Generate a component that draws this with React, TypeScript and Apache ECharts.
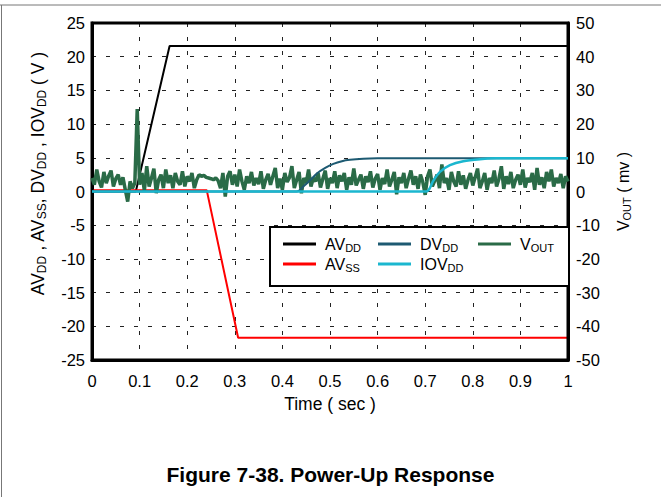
import React, { useEffect, useRef } from "react";
import * as echarts from "echarts";

const xTicks = [0, 0.1, 0.2, 0.3, 0.4, 0.5, 0.6, 0.7, 0.8, 0.9, 1];

const avddT = [0, 0.092, 0.163, 1];
const avddV = [0, 0, 21.6, 21.6];

const avssT = [0, 0.241, 0.307, 1];
const avssV = [0.2, 0.2, -21.7, -21.7];

const dvddT = [0, 0.43, 0.445, 0.46, 0.473, 0.49, 0.507, 0.525, 0.542, 0.57, 0.6, 0.65, 1];
const dvddV = [0, 0, 0.8, 1.8, 2.7, 3.5, 4.1, 4.5, 4.7, 4.85, 4.92, 4.95, 4.95];

const iovddT = [0, 0.702, 0.717, 0.731, 0.752, 0.78, 0.815, 0.85, 0.9, 1];
const iovddV = [0, 0, 1.6, 2.9, 3.9, 4.5, 4.8, 4.92, 4.95, 4.95];

// VOUT in mV, sampled every 5 ms from 0 to 1 s
const voutStep = 0.005;
const voutMv = [
  4.0, 2.0, 6.5, 3.0, 1.2, 5.8, 2.5, 4.6, 6.2, 1.5,
  3.8, 5.0, 2.0, 4.2, 0.5, -3.0, 3.0, 1.0, 2.5, 24.5,
  2.0, 5.5, 0.2, 7.5, 1.5, 4.0, 6.8, -0.5, 3.5, 5.0,
  1.0, 6.5, 2.5, 4.8, 1.0, 5.5, 3.0, 2.0, 6.0, 1.5,
  4.5, 3.0, 5.5, 1.0, 3.5, 5.0, 4.5, 4.8, 4.2, 4.0,
  3.8, 3.5, 4.0, 3.2, 1.0, 5.5, -1.5, 4.5, 6.0, 2.0,
  5.0, 1.5, 6.5, 3.0, 0.5, 4.5, 2.5, 5.8, 1.8, 4.0,
  2.2, 6.0, 0.8, 3.5, 5.2, 2.0, 4.5, 7.0, 1.0, 3.8,
  0.5, 5.5, 2.8, 4.2, 7.5, 1.0, 3.5, 5.8, -0.5, 4.0,
  2.5, 6.5, 1.5, 4.0, 3.0, 5.5, 1.2, 3.8, 6.2, 0.8,
  4.0, 2.5, 6.0, 1.0, 4.8, 3.0, 5.5, 0.5, 4.2, 2.0,
  6.8, 1.8, 3.5, 5.0, 0.8, 4.5, 2.8, 6.0, 1.2, 3.8,
  5.2, 0.5, 4.0, 2.2, 6.5, 1.5, 3.5, 5.8, -0.8, 4.2,
  2.5, 5.5, 1.0, 3.8, 6.2, 2.0, 4.5, 0.8, 5.0, 2.8,
  -1.0, 4.5, 6.5, 1.5, 3.2, 5.0, 1.0, 8.0, 2.5, 4.0,
  0.5, 5.8, 3.0, 1.5, 6.0, 2.0, 4.8, 0.8, 3.5, 5.5,
  1.8, 4.2, 6.8, 1.0, 3.0, 5.5, 0.5, 4.0, 2.5, 6.2,
  1.5, 3.8, 7.5, 0.8, 4.5, 2.2, 5.8, 1.0, 3.5, 5.0,
  2.0, 6.5, 1.2, 4.0, 2.8, 5.5, 0.5, 7.0, 2.0, 4.2,
  1.0, 5.8, 3.0, 6.5, 1.5, 4.0, 2.5, 5.2, 1.0, 4.5,
  3.0,
];

const FONT = "'Liberation Sans', Arial, sans-serif";

const pairs = (t: number[], v: number[]) => t.map((x, i) => [x, v[i]]);

const subRich = {
  m: { fontSize: 16, fontFamily: FONT, color: "#000" },
  s: { fontSize: 11, fontFamily: FONT, color: "#000", verticalAlign: "bottom" as const, padding: [7, 0, 0, 0] },
};

const bigRich = {
  m: { fontSize: 17.5, fontFamily: FONT, color: "#000" },
  s: { fontSize: 12, fontFamily: FONT, color: "#000", verticalAlign: "bottom" as const, padding: [8, 0, 0, 0] },
};

export default function App() {
  const ref = useRef<HTMLDivElement>(null);
  useEffect(() => {
    if (!ref.current) return;
    const chart = echarts.init(ref.current, null, { renderer: "svg" });
    const voutData = voutMv.map((v, i) => [Math.round(i * voutStep * 1000) / 1000, v]);
    const legendItem = (name: string, label: string, left: number, top: number) => ({
      data: [name],
      left,
      top,
      padding: 0,
      itemWidth: 33,
      itemHeight: 3,
      icon: "rect",
      z: 5,
      formatter: () => label,
      textStyle: { rich: subRich, padding: [0, 0, 0, 4] },
    });
    chart.setOption({
      animation: false,
      textStyle: { fontFamily: FONT },
      title: {
        text: "Figure 7-38. Power-Up Response",
        left: "center",
        top: 459,
        textStyle: { fontFamily: FONT, fontWeight: "bold", fontSize: 21, color: "#000" },
      },
      graphic: [
        { type: "line", shape: { x1: 0, y1: 5, x2: 661, y2: 5 }, style: { stroke: "#777", lineWidth: 1 }, z: 10 },
        { type: "line", shape: { x1: 1.5, y1: 5, x2: 1.5, y2: 497 }, style: { stroke: "#777", lineWidth: 1 }, z: 10 },
        {
          type: "rect",
          shape: { x: 270, y: 227, width: 299, height: 59 },
          style: { fill: "#fff", stroke: "#000", lineWidth: 2 },
          z: 4,
        },
      ],
      legend: [
        legendItem("AVDD", "{m|AV}{s|DD}", 283, 236),
        legendItem("DVDD", "{m|DV}{s|DD}", 378, 236),
        legendItem("VOUT", "{m|V}{s|OUT}", 478, 236),
        legendItem("AVSS", "{m|AV}{s|SS}", 283, 256),
        legendItem("IOVDD", "{m|IOV}{s|DD}", 378, 256),
      ],
      grid: {
        left: 92,
        top: 23,
        width: 476,
        height: 337,
        show: true,
        borderColor: "#000",
        borderWidth: 3,
        z: 3,
      },
      xAxis: {
        type: "value",
        min: 0,
        max: 1,
        interval: 0.1,
        name: "Time ( sec )",
        nameLocation: "middle",
        nameGap: 35,
        nameTextStyle: { fontSize: 17.5, color: "#000", fontFamily: FONT },
        axisLine: { show: true, onZero: false, lineStyle: { color: "#000", width: 3 } },
        axisTick: { show: false },
        axisLabel: { fontSize: 16.5, color: "#000", margin: 12, fontFamily: FONT },
        splitLine: { show: true, lineStyle: { color: "#222", width: 1, type: [4, 10] } },
        data: xTicks,
      },
      yAxis: [
        {
          type: "value",
          min: -25,
          max: 25,
          interval: 5,
          position: "left",
          name: "{m|AV}{s|DD}{m| , AV}{s|SS}{m|, DV}{s|DD}{m| , IOV}{s|DD}{m| ( V )}",
          nameLocation: "middle",
          nameRotate: 90,
          nameGap: 44,
          nameTextStyle: { rich: bigRich, padding: [0, 0, 0, 36] },
          axisLine: { show: true, onZero: false, lineStyle: { color: "#000", width: 3 } },
          axisTick: { show: false },
          axisLabel: { fontSize: 16.5, color: "#000", margin: 7, fontFamily: FONT },
          splitLine: { show: true, lineStyle: { color: "#222", width: 1, type: [4, 10] } },
        },
        {
          type: "value",
          min: -50,
          max: 50,
          interval: 10,
          position: "right",
          name: "{m|V}{s|OUT}{m| ( mv )}",
          nameLocation: "middle",
          nameRotate: 90,
          nameGap: 46,
          nameTextStyle: { rich: subRich },
          axisLine: { show: true, onZero: false, lineStyle: { color: "#000", width: 3 } },
          axisTick: { show: false },
          axisLabel: { fontSize: 16.5, color: "#000", margin: 8, fontFamily: FONT },
          splitLine: { show: false },
        },
      ],
      series: [
        {
          name: "AVDD",
          type: "line",
          data: pairs(avddT, avddV),
          showSymbol: false,
          lineStyle: { color: "#000", width: 2 },
          itemStyle: { color: "#000" },
          z: 2,
        },
        {
          name: "AVSS",
          type: "line",
          data: pairs(avssT, avssV),
          showSymbol: false,
          lineStyle: { color: "#ff0000", width: 2 },
          itemStyle: { color: "#ff0000" },
          z: 2,
        },
        {
          name: "VOUT",
          type: "line",
          yAxisIndex: 1,
          data: voutData,
          showSymbol: false,
          lineStyle: { color: "#2a6b47", width: 3.5 },
          itemStyle: { color: "#2a6b47" },
          z: 3,
        },
        {
          name: "DVDD",
          type: "line",
          data: pairs(dvddT, dvddV),
          showSymbol: false,
          smooth: 0.3,
          lineStyle: { color: "#1d5a72", width: 2 },
          itemStyle: { color: "#1d5a72" },
          z: 4,
        },
        {
          name: "IOVDD",
          type: "line",
          data: pairs(iovddT, iovddV),
          showSymbol: false,
          smooth: 0.3,
          lineStyle: { color: "#1bb7cf", width: 2.5 },
          itemStyle: { color: "#1bb7cf" },
          z: 4,
        },
      ],
    });
    return () => chart.dispose();
  }, []);
  return (
    <div
      ref={ref}
      style={{ position: "fixed", left: 0, top: 0, width: 661, height: 497, background: "#fff" }}
    />
  );
}
